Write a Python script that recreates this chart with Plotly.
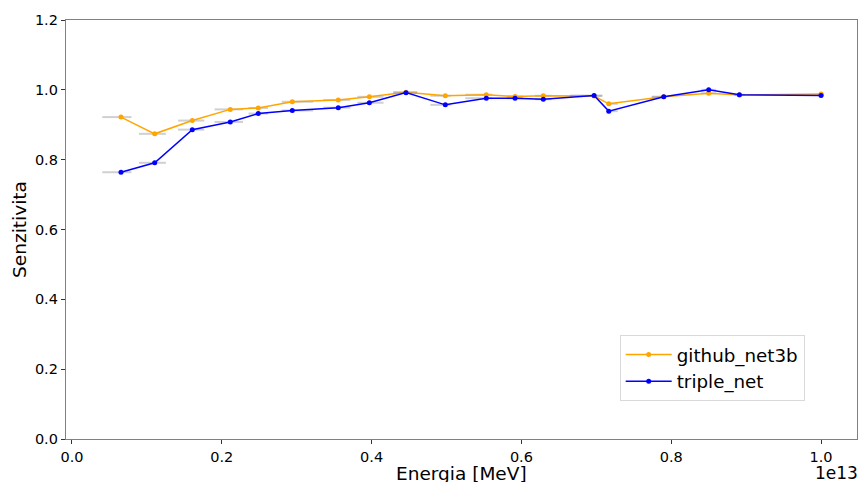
import plotly.graph_objects as go

# Energy (in units of 1e13 MeV) -- axis shows offset "1e13"
energy = [0.0654, 0.1104, 0.1606, 0.2113, 0.2487, 0.2941, 0.3555, 0.3970, 0.4459,
          0.4984, 0.5531, 0.5915, 0.6292, 0.6970, 0.7166, 0.7900, 0.8500, 0.8910, 1.0000]
err_minus = [0.025, 0.021, 0.019, 0.021, 0.013, 0.014, 0.020, 0.016, 0.017,
             0.020, 0.028, 0.011, 0.011, 0.032, 0.003, 0.016, 0.010, 0.007, 0.004]
err_plus = [0.014, 0.015, 0.016, 0.017, 0.013, 0.028, 0.016, 0.019, 0.015,
            0.007, 0.008, 0.011, 0.011, 0.011, 0.012, 0.003, 0.010, 0.007, 0.004]
github_net3b = [0.922, 0.874, 0.912, 0.944, 0.948, 0.966, 0.971, 0.980, 0.993,
                0.983, 0.986, 0.981, 0.983, 0.982, 0.960, 0.980, 0.990, 0.985, 0.988]
triple_net = [0.764, 0.791, 0.886, 0.908, 0.932, 0.941, 0.949, 0.963, 0.992,
              0.957, 0.976, 0.976, 0.973, 0.984, 0.939, 0.980, 1.000, 0.986, 0.984]

x_ticks = [0.0, 0.2, 0.4, 0.6, 0.8, 1.0]
x_tick_labels = ["0.0", "0.2", "0.4", "0.6", "0.8", "1.0"]
y_ticks = [0.0, 0.2, 0.4, 0.6, 0.8, 1.0, 1.2]
y_tick_labels = ["0.0", "0.2", "0.4", "0.6", "0.8", "1.0", "1.2"]

FONT = "DejaVu Sans"
ERR_COLOR = "rgba(150,150,150,0.45)"

fig = go.Figure()
for name, vals, color in [("github_net3b", github_net3b, "#FFA500"),
                          ("triple_net", triple_net, "#0000FF")]:
    fig.add_trace(go.Scatter(
        x=energy, y=vals, name=name, mode="lines+markers",
        line=dict(color=color, width=1.5),
        marker=dict(color=color, size=5),
        error_x=dict(type="data", symmetric=False, array=err_plus, arrayminus=err_minus,
                     color=ERR_COLOR, thickness=2, width=0),
    ))

fig.update_layout(
    width=859, height=482,
    margin=dict(l=66, r=2, t=20, b=43, autoexpand=False),
    paper_bgcolor="white", plot_bgcolor="white",
    font=dict(family=FONT, size=14.5, color="black"),
    showlegend=True,
    legend=dict(x=0.70, y=0.248, xanchor="left", yanchor="top",
                bgcolor="white", bordercolor="#d9d9d9", borderwidth=1,
                font=dict(family=FONT, size=18.3, color="black"),
                itemwidth=46, tracegroupgap=2),
    xaxis=dict(range=[-0.008, 1.048], tickvals=x_ticks, ticktext=x_tick_labels,
               automargin=False,
               showgrid=False, zeroline=False, showline=True, linecolor="#808080",
               linewidth=1.3, mirror=True, ticks="outside", ticklen=4, tickcolor="#333",
               tickfont=dict(size=14.5)),
    yaxis=dict(range=[0, 1.2], tickvals=y_ticks, ticktext=y_tick_labels,
               automargin=False,
               showgrid=False, zeroline=False, showline=True, linecolor="#808080",
               linewidth=1.3, mirror=True, ticks="outside", ticklen=4, tickcolor="#333",
               tickfont=dict(size=14.5),
               title=dict(text="Senzitivita", font=dict(size=18.5), standoff=3)),
    annotations=[
        dict(text="1e13", x=1.0, y=-0.081, xref="paper", yref="paper",
             xanchor="right", yanchor="middle", showarrow=False, xshift=3,
             font=dict(family=FONT, size=17, color="black")),
        dict(text="Energia [MeV]", x=0.5, y=-0.052, xref="paper", yref="paper",
             xanchor="center", yanchor="top", showarrow=False,
             font=dict(family=FONT, size=18.5, color="black")),
    ],
)

fig.write_html("out.html")
